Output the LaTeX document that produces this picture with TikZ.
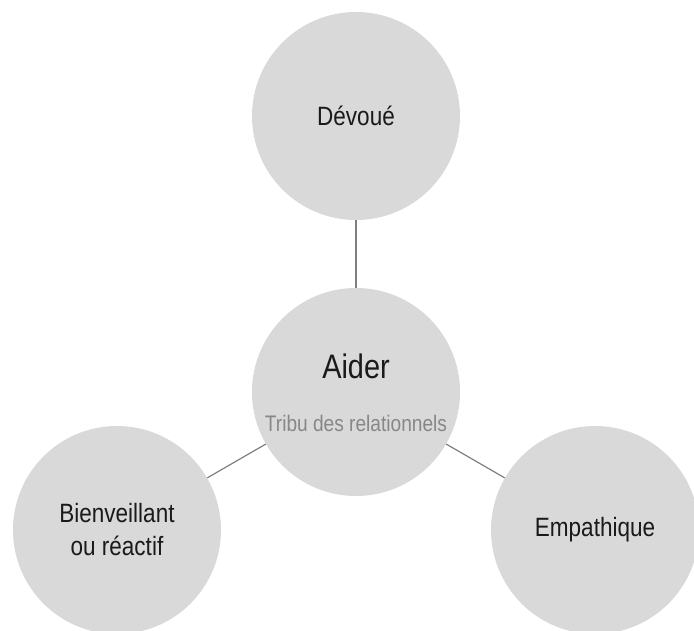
\documentclass[tikz,border=0pt]{standalone}
\usepackage{fontspec}
\setmainfont{Liberation Sans}[FakeStretch=0.85]
\usepackage{xcolor}
\usepackage{tikz}
\definecolor{discfill}{HTML}{D9D9D9}
\definecolor{linkgray}{HTML}{7F7F7F}
\definecolor{tribegray}{HTML}{878787}
\definecolor{labelink}{HTML}{1A1A1A}

\begin{document}
\begin{tikzpicture}[
   disc/.style={circle, fill=discfill, draw=none, minimum size=208bp,
                inner sep=0pt, align=center, text=labelink,
                font=\fontsize{26.5bp}{33bp}\selectfont},
   hubtitle/.style={anchor=base, inner sep=0pt, text=labelink,
                font=\fontsize{34bp}{34bp}\selectfont},
   tribe/.style={anchor=base, inner sep=0pt, text=tribegray,
                font=\fontsize{22.5bp}{22.5bp}\selectfont},
   link/.style={draw=linkgray, line width=1.2bp}]
\useasboundingbox (-356bp,-239bp) rectangle (338bp,392bp);
\node[disc] (aider) at (0,0) {};
\node[disc] (devoue) at (90:276bp) {Dévoué};
\node[disc] (bienv) at (210:276bp) {Bienveillant\\ou réactif};
\node[disc] (empath) at (330:276bp) {Empathique};
\node[hubtitle] (titre) at ([yshift=14bp]aider.center) {Aider};
\node[tribe] (tribu) at ([yshift=-39bp]aider.center) {Tribu des relationnels};
\foreach \n in {devoue,bienv,empath}
  \draw[link] (aider) -- (\n);
\end{tikzpicture}
\end{document}
